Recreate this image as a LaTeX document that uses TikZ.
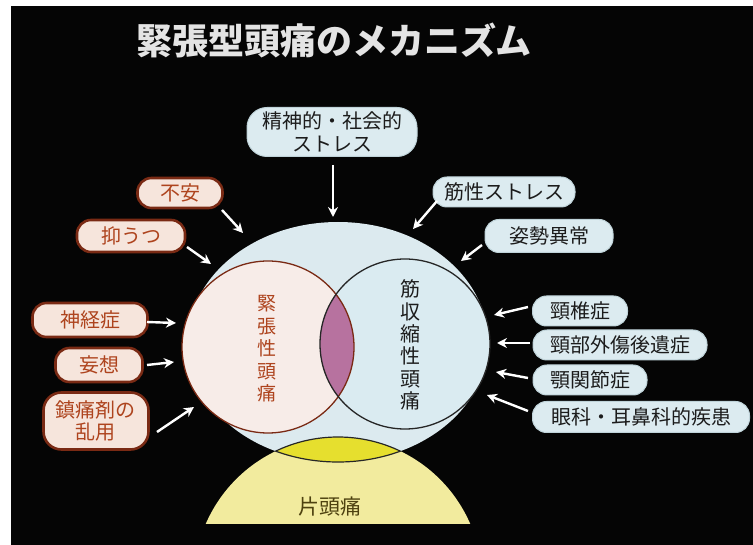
\documentclass[tikz,border=0pt]{standalone}
\usepackage{fontspec}
\setmainfont{Noto Sans CJK JP}
\usetikzlibrary{arrows.meta}
\definecolor{bgblack}{HTML}{050505}
\definecolor{ellblue}{HTML}{DCEAEF}
\definecolor{rcblue}{HTML}{DAEBF1}
\definecolor{lcpink}{HTML}{F7ECE8}
\definecolor{lenspurple}{HTML}{B7729F}
\definecolor{domeyellow}{HTML}{F2EB9E}
\definecolor{lensyellow}{HTML}{E6DF2E}
\definecolor{pinkfill}{HTML}{F6E5DC}
\definecolor{pinkdraw}{HTML}{7A2A14}
\definecolor{pinktext}{HTML}{AE441E}
\definecolor{bluefill}{HTML}{DCEBF0}
\definecolor{bluedraw}{HTML}{BFD3D9}
\definecolor{darktext}{HTML}{1C1C1C}
\definecolor{titlegray}{HTML}{E4E4E4}
\definecolor{dometext}{HTML}{4E4210}
\tikzset{
  pinkbox/.style={draw=pinkdraw, fill=pinkfill, line width=2.6pt, rounded corners=14pt,
    text=pinktext, font=\fontsize{20}{23}\selectfont, inner sep=0pt, align=center},
  bluebox/.style={draw=bluedraw, fill=bluefill, line width=1pt, rounded corners=14pt,
    text=darktext, font=\fontsize{20}{23}\selectfont, inner sep=0pt, align=center},
  whitearrow/.style={draw=white, line width=2.4pt, -{Stealth[length=10pt,width=10pt]}},
  vtext/.style={align=center, inner sep=0pt, font=\fontsize{19}{22.5}\selectfont},
}
\begin{document}
\begin{tikzpicture}[x=1pt,y=-1pt]
\useasboundingbox (0,0) rectangle (753,545);
\fill[white] (0,0) rectangle (753,545);
\fill[bgblack] (11,6) rectangle (753,545);

% title
\node[text=titlegray, font=\fontsize{36}{40}\selectfont\bfseries, inner sep=0pt] (title) at (334,40) {緊張型頭痛のメカニズム};

% dome (migraine)
\begin{scope}
  \clip (0,0) rectangle (753,523);
  \fill[domeyellow] (338,581) circle[radius=144];
\end{scope}

% big ellipse
\fill[ellblue] (338,342) ellipse[x radius=150, y radius=120];

% lens between ellipse and dome
\begin{scope}
  \clip (338,342) ellipse[x radius=150, y radius=120];
  \fill[lensyellow] (338,581) circle[radius=144];
  \draw[line width=1.2pt, black!85] (338,581) circle[radius=144];
\end{scope}
\begin{scope}
  \clip (338,581) circle[radius=144];
  \draw[line width=1.2pt, black!85] (338,342) ellipse[x radius=150, y radius=120];
\end{scope}

% two circles
\fill[lcpink] (268,347) circle[radius=86];
\fill[rcblue] (405,344) circle[radius=85];
\begin{scope}
  \clip (268,347) circle[radius=86];
  \fill[lenspurple] (405,344) circle[radius=85];
\end{scope}
\draw[line width=1.3pt, pinkdraw] (268,347) circle[radius=86];
\draw[line width=1.3pt, black!85] (405,344) circle[radius=85];

% circle labels
\node[vtext, text=pinktext] (kinchou) at (267,349) {緊\\張\\性\\頭\\痛};
\node[vtext, text=darktext, font=\fontsize{20}{22.4}\selectfont] (kinshuku) at (410,345) {筋\\収\\縮\\性\\頭\\痛};
\node[text=dometext, font=\fontsize{21}{24}\selectfont, inner sep=0pt] (henzutsu) at (330,507) {片頭痛};

% top box
\node[bluebox, minimum width=170pt, minimum height=49pt, rounded corners=20pt, font=\fontsize{20}{23}\selectfont] (seishin) at (332,132) {精神的・社会的\\ストレス};

% left boxes
\node[pinkbox, minimum width=85pt, minimum height=30pt] (fuan) at (180,193) {不安};
\node[pinkbox, minimum width=108pt, minimum height=32pt] (yokuutsu) at (131,236) {抑うつ};
\node[pinkbox, minimum width=115pt, minimum height=34pt] (shinkei) at (90,320) {神経症};
\node[pinkbox, minimum width=87pt, minimum height=34pt] (mousou) at (99,365) {妄想};
\node[pinkbox, minimum width=105pt, minimum height=57pt, rounded corners=18pt, font=\fontsize{20}{22}\selectfont] (chintsu) at (96,421) {鎮痛剤の\\乱用};

% right boxes
\node[bluebox, minimum width=142pt, minimum height=30pt] (kinsei) at (504,192) {筋性ストレス};
\node[bluebox, minimum width=128pt, minimum height=33pt] (shisei) at (549,236) {姿勢異常};
\node[bluebox, minimum width=95pt, minimum height=30pt] (keitsui) at (580,311) {頸椎症};
\node[bluebox, minimum width=174pt, minimum height=30pt] (keibu) at (620,345) {頸部外傷後遺症};
\node[bluebox, minimum width=114pt, minimum height=30pt] (gaku) at (590,380) {顎関節症};
\node[bluebox, minimum width=217pt, minimum height=31pt] (ganka) at (641,417) {眼科・耳鼻科的疾患};

% arrow coordinates
\coordinate (seishin-t) at (333,165);  \coordinate (seishin-h) at (333,217);
\coordinate (fuan-t) at (222,210);     \coordinate (fuan-h) at (243,233);
\coordinate (yokuutsu-t) at (187,247); \coordinate (yokuutsu-h) at (211,264);
\coordinate (shinkei-t) at (147,322);  \coordinate (shinkei-h) at (176,323);
\coordinate (mousou-t) at (147,365);   \coordinate (mousou-h) at (174,362);
\coordinate (chintsu-t) at (157,432);  \coordinate (chintsu-h) at (194,407);
\coordinate (kinsei-t) at (437,201);   \coordinate (kinsei-h) at (413,229);
\coordinate (shisei-t) at (482,245);   \coordinate (shisei-h) at (461,261);
\coordinate (keitsui-t) at (528,307);  \coordinate (keitsui-h) at (494,315);
\coordinate (keibu-t) at (530,343);    \coordinate (keibu-h) at (497,343);
\coordinate (gaku-t) at (528,378);     \coordinate (gaku-h) at (496,372);
\coordinate (ganka-t) at (528,411);    \coordinate (ganka-h) at (487,395);

\foreach \n in {seishin,fuan,yokuutsu,shinkei,mousou,chintsu,kinsei,shisei,keitsui,keibu,gaku,ganka}
  \draw[whitearrow] (\n-t) -- (\n-h);
\end{tikzpicture}
\end{document}
